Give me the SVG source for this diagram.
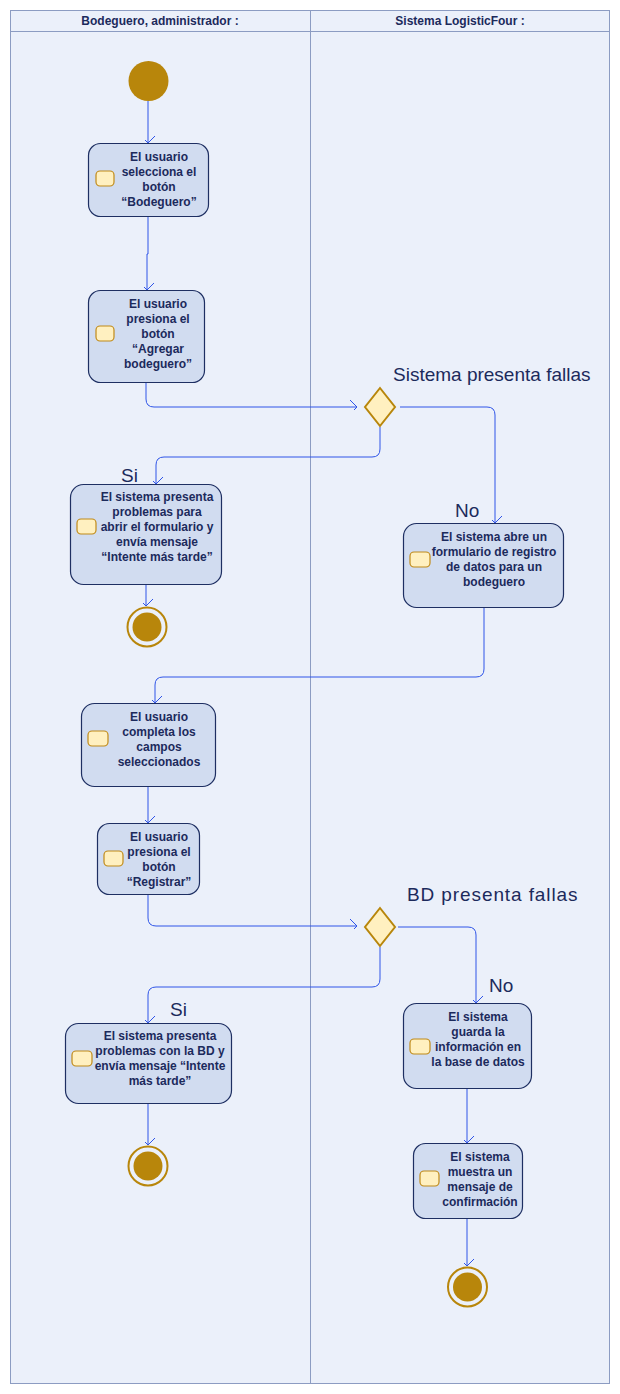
<svg xmlns="http://www.w3.org/2000/svg" width="620" height="1394" viewBox="0 0 620 1394">
<style>
.lane{fill:#ebf0fa;stroke:#8c9cc2;stroke-width:1}
.hdr{font-family:"Liberation Sans",Arial,sans-serif;font-size:12px;font-weight:bold;fill:#1c2a5c;text-anchor:middle}
.act{fill:#d1dcf0;stroke:#1e2f62;stroke-width:1.2}
.ico{fill:#fff0c0;stroke:#c08a18;stroke-width:1.2}
.t{font-family:"Liberation Sans",Arial,sans-serif;font-size:12px;font-weight:bold;fill:#1c2a5c;text-anchor:middle}
.lbl{font-family:"Liberation Sans",Arial,sans-serif;font-size:19px;fill:#1c2a5c}
.con{fill:none;stroke:#2f55e8;stroke-width:1;marker-end:url(#arr)}
.dec{fill:#fff0c0;stroke:#b8860b;stroke-width:2}
.st{fill:#b8860b}
.fin{fill:none;stroke:#b8860b;stroke-width:2}
</style>
<defs>
<marker id="arr" markerWidth="14" markerHeight="10" refX="7" refY="7" orient="auto-start-reverse" markerUnits="userSpaceOnUse" viewBox="0 0 14 10">
<path d="M0,0 L7,7 L14,0" fill="none" stroke="#2f55e8" stroke-width="1" transform="rotate(-90 7 7)"/>
</marker>
</defs>
<g id="lanes">
<rect class="lane" x="10.5" y="10.5" width="599" height="1373"/>
<line x1="10.5" y1="31.5" x2="609.5" y2="31.5" stroke="#8c9cc2"/>
<line x1="310.5" y1="10.5" x2="310.5" y2="1383.5" stroke="#8c9cc2"/>
<text class="hdr" x="160" y="25">Bodeguero, administrador :</text>
<text class="hdr" x="460" y="25">Sistema LogisticFour :</text>
</g>
<g id="connectors">
<path class="con" d="M148,101 V143"/>
<path class="con" d="M148,217 V254 H147 V290"/>
<path class="con" d="M146,383 V399 Q146,407 154,407 H357"/>
<path class="con" d="M400,407 H487 Q495,407 495,415 V523"/>
<path class="con" d="M380,427 V449 Q380,457 372,457 H164 Q156,457 156,465 V484"/>
<path class="con" d="M146,585 V606"/>
<path class="con" d="M484,608 V669 Q484,677 476,677 H163 Q155,677 155,685 V703"/>
<path class="con" d="M148,787 V823"/>
<path class="con" d="M148,894 V918 Q148,926 156,926 H357"/>
<path class="con" d="M398,927 H468 Q476,927 476,935 V1003"/>
<path class="con" d="M380,947 V979 Q380,987 372,987 H156 Q148,987 148,995 V1023"/>
<path class="con" d="M148,1103 V1145"/>
<path class="con" d="M467,1089 V1143"/>
<path class="con" d="M467,1219 V1266"/>
</g>
<g id="start"><circle class="st" cx="148.5" cy="81" r="20"/></g>
<g id="n1">
<rect class="act" x="88.5" y="143.5" width="120" height="73" rx="12"/>
<rect class="ico" x="96" y="171" width="18" height="15" rx="4"/>
<text class="t" x="159" y="161">El usuario</text>
<text class="t" x="159" y="176">selecciona el</text>
<text class="t" x="159" y="191">botón</text>
<text class="t" x="159" y="206">“Bodeguero”</text>
</g>
<g id="n2">
<rect class="act" x="88.5" y="290.5" width="116" height="92" rx="12"/>
<rect class="ico" x="96" y="326" width="18" height="15" rx="4"/>
<text class="t" x="158" y="308">El usuario</text>
<text class="t" x="158" y="323">presiona el</text>
<text class="t" x="158" y="338">botón</text>
<text class="t" x="158" y="353">“Agregar</text>
<text class="t" x="158" y="368">bodeguero”</text>
</g>
<g id="d1">
<polygon class="dec" points="380,388 395,407 380,426 365,407"/>
<text class="lbl" x="393" y="381">Sistema presenta fallas</text>
</g>
<g id="n3">
<text class="lbl" x="121" y="482">Si</text>
<rect class="act" x="70.5" y="484.5" width="151" height="100" rx="13"/>
<rect class="ico" x="77" y="519" width="19" height="15" rx="4"/>
<text class="t" x="157" y="501">El sistema presenta</text>
<text class="t" x="157" y="516">problemas para</text>
<text class="t" x="157" y="531">abrir el formulario y</text>
<text class="t" x="157" y="546">envía mensaje</text>
<text class="t" x="157" y="561">“Intente más tarde”</text>
</g>
<g id="end1">
<circle class="fin" cx="147" cy="627" r="19.5"/>
<circle class="st" cx="147" cy="627" r="14.5"/>
</g>
<g id="n4">
<text class="lbl" x="455" y="517">No</text>
<rect class="act" x="403.5" y="523.5" width="160" height="84" rx="13"/>
<rect class="ico" x="410" y="552" width="20" height="15" rx="4"/>
<text class="t" x="494" y="541">El sistema abre un</text>
<text class="t" x="494" y="556">formulario de registro</text>
<text class="t" x="494" y="571">de datos para un</text>
<text class="t" x="494" y="586">bodeguero</text>
</g>
<g id="n5">
<rect class="act" x="81.5" y="703.5" width="134" height="83" rx="13"/>
<rect class="ico" x="88" y="731" width="20" height="15" rx="4"/>
<text class="t" x="159" y="721">El usuario</text>
<text class="t" x="159" y="736">completa los</text>
<text class="t" x="159" y="751">campos</text>
<text class="t" x="159" y="766">seleccionados</text>
</g>
<g id="n6">
<rect class="act" x="97.5" y="823.5" width="102" height="71" rx="12"/>
<rect class="ico" x="104" y="851" width="19" height="15" rx="4"/>
<text class="t" x="159" y="841">El usuario</text>
<text class="t" x="159" y="856">presiona el</text>
<text class="t" x="159" y="871">botón</text>
<text class="t" x="159" y="886">“Registrar”</text>
</g>
<g id="d2">
<polygon class="dec" points="380,908 395,927 380,946 365,927"/>
<text class="lbl" x="407" y="901" letter-spacing="0.9">BD presenta fallas</text>
</g>
<g id="n7">
<text class="lbl" x="170" y="1016">Si</text>
<rect class="act" x="65.5" y="1023.5" width="166" height="80" rx="13"/>
<rect class="ico" x="72" y="1051" width="20" height="15" rx="4"/>
<text class="t" x="160" y="1040">El sistema presenta</text>
<text class="t" x="160" y="1055">problemas con la BD y</text>
<text class="t" x="160" y="1070">envía mensaje “Intente</text>
<text class="t" x="160" y="1085">más tarde”</text>
</g>
<g id="end2">
<circle class="fin" cx="148" cy="1166" r="19.5"/>
<circle class="st" cx="148" cy="1166" r="14.5"/>
</g>
<g id="n8">
<text class="lbl" x="489" y="992">No</text>
<rect class="act" x="403.5" y="1003.5" width="128" height="85" rx="13"/>
<rect class="ico" x="410" y="1039" width="20" height="15" rx="4"/>
<text class="t" x="478" y="1021">El sistema</text>
<text class="t" x="478" y="1036">guarda la</text>
<text class="t" x="478" y="1051">información en</text>
<text class="t" x="478" y="1066">la base de datos</text>
</g>
<g id="n9">
<rect class="act" x="413.5" y="1143.5" width="109" height="75" rx="12"/>
<rect class="ico" x="420" y="1171" width="19" height="15" rx="4"/>
<text class="t" x="480" y="1161">El sistema</text>
<text class="t" x="480" y="1176">muestra un</text>
<text class="t" x="480" y="1191">mensaje de</text>
<text class="t" x="480" y="1206">confirmación</text>
</g>
<g id="end3">
<circle class="fin" cx="467.5" cy="1287" r="19.5"/>
<circle class="st" cx="467.5" cy="1287" r="14.5"/>
</g>
</svg>
